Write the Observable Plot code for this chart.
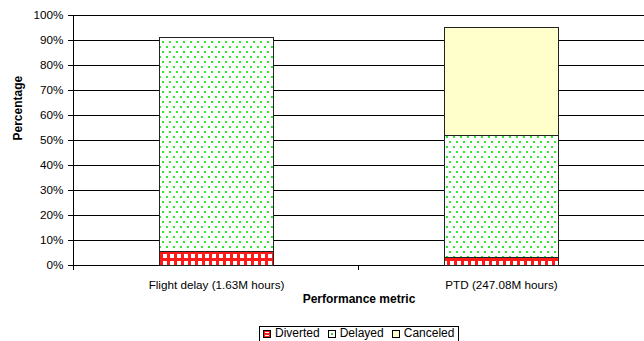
<!DOCTYPE html>
<html>
<head>
<meta charset="utf-8">
<script src="https://cdn.jsdelivr.net/npm/d3@7"></script>
<script src="https://cdn.jsdelivr.net/npm/@observablehq/plot@0.6"></script>
<style>
  body { margin: 0; background: #fff; font-family: "Liberation Sans", Arial, sans-serif; }
  #wrap { position: relative; width: 644px; height: 341px; overflow: hidden; }
  #legend { position: absolute; left: 259px; top: 326px; border: 1px solid #000; padding: 0 4px 2px 3px;
            font-size: 12px; line-height: 13px; color: #000; white-space: nowrap; display: flex; gap: 8px;
            align-items: center; background: #fff; }
  .item { display: flex; align-items: center; gap: 4px; }
  .sw { width: 8px; height: 8px; border: 1px solid #000; box-sizing: border-box; }
</style>
</head>
<body>
<div id="wrap"></div>
<script>
// Share of affected hours by outcome, per performance metric
const categories = ["Flight delay (1.63M hours)", "PTD (247.08M hours)"];
const series = ["Diverted", "Delayed", "Canceled"];
const diverted = [5.6, 3.1];
const delayed = [85.4, 48.7];
const canceled = [0, 43.4];
const yTicks = [0, 10, 20, 30, 40, 50, 60, 70, 80, 90, 100];

const fills = ["url(#pat-diverted)", "url(#pat-delayed)", "url(#pat-canceled)"];

const rows = [];
categories.forEach((c, i) => {
  [diverted, delayed, canceled].forEach((vals, k) => {
    rows.push({category: c, series: series[k], value: vals[i]});
  });
});

const width = 644, marginLeft = 73, marginRight = 0;
const step = (width - marginLeft - marginRight) / categories.length;

const chart = Plot.plot({
  width,
  height: 326,
  marginLeft,
  marginRight,
  marginTop: 15,
  marginBottom: 61,
  style: { fontFamily: "'Liberation Sans', Arial, sans-serif", fontSize: "11.7px", color: "#000", background: "#fff" },
  x: { domain: categories, paddingInner: 0.6, paddingOuter: 0.3, label: null },
  y: { domain: [0, 100], label: null },
  color: { domain: series, range: fills },
  marks: [
    Plot.ruleY(yTicks, { stroke: "#000", strokeWidth: 1 }),
    Plot.barY(rows, Plot.stackY({ x: "category", y: "value", fill: "series", stroke: "#222", strokeWidth: 1, order: null })),
    Plot.ruleX([categories[0]], { dx: -step / 2, y1: 0, y2: 100, stroke: "#000" }),
    Plot.axisY(yTicks, { tickSize: 5, tickPadding: 5, tickFormat: d => d + "%", label: null, stroke: "#000" }),
    Plot.axisX({ tickSize: 5, tickFormat: () => "", dx: -step / 2, label: null, stroke: "#000" }),
    Plot.axisX({ tickSize: 0, tickPadding: 15, label: null }),
    Plot.text(["Percentage"], { frameAnchor: "left", rotate: -90, dx: -55, fontWeight: "bold", fontSize: 12 }),
    Plot.text(["Performance metric"], { frameAnchor: "bottom", dy: 37, fontWeight: "bold", fontSize: 12 })
  ]
});

// Fill patterns referenced by the color range
const svg = d3.select(chart);
const defs = svg.insert("defs", ":first-child");
const pd = defs.append("pattern").attr("id", "pat-diverted").attr("patternUnits", "userSpaceOnUse")
  .attr("width", 7).attr("height", 7);
pd.append("rect").attr("width", 7).attr("height", 7).attr("fill", "#ff1a1a");
pd.append("rect").attr("x", 2).attr("y", 2).attr("width", 4).attr("height", 4).attr("fill", "#fff");
const pg = defs.append("pattern").attr("id", "pat-delayed").attr("patternUnits", "userSpaceOnUse")
  .attr("width", 7).attr("height", 10);
pg.append("rect").attr("width", 7).attr("height", 10).attr("fill", "#fff");
pg.append("rect").attr("x", 1).attr("y", 1).attr("width", 2).attr("height", 2).attr("fill", "#2bea2b");
pg.append("rect").attr("x", 4.5).attr("y", 6).attr("width", 2).attr("height", 2).attr("fill", "#2bea2b");
const pc = defs.append("pattern").attr("id", "pat-canceled").attr("patternUnits", "userSpaceOnUse")
  .attr("width", 4).attr("height", 4);
pc.append("rect").attr("width", 4).attr("height", 4).attr("fill", "#ffffcc");

svg.attr("shape-rendering", "crispEdges");

const wrap = document.getElementById("wrap");
wrap.appendChild(chart);

// Legend
const legend = document.createElement("div");
legend.id = "legend";
const swatchStyles = [
  "background:#fff;box-shadow:inset 0 0 0 1px #ff1a1a;background-image:linear-gradient(#ff1a1a,#ff1a1a);background-size:100% 2px;background-repeat:no-repeat;background-position:0 50%",
  "background:#fff;background-image:radial-gradient(#22dd22 40%, transparent 45%);background-size:4px 4px;background-position:center;background-repeat:no-repeat",
  "background:#ffffcc"
];
series.forEach((s, i) => {
  const item = document.createElement("span");
  item.className = "item";
  const sw = document.createElement("span");
  sw.className = "sw";
  sw.setAttribute("style", swatchStyles[i]);
  const t = document.createElement("span");
  t.textContent = s;
  item.appendChild(sw);
  item.appendChild(t);
  legend.appendChild(item);
});
wrap.appendChild(legend);
</script>
</body>
</html>
